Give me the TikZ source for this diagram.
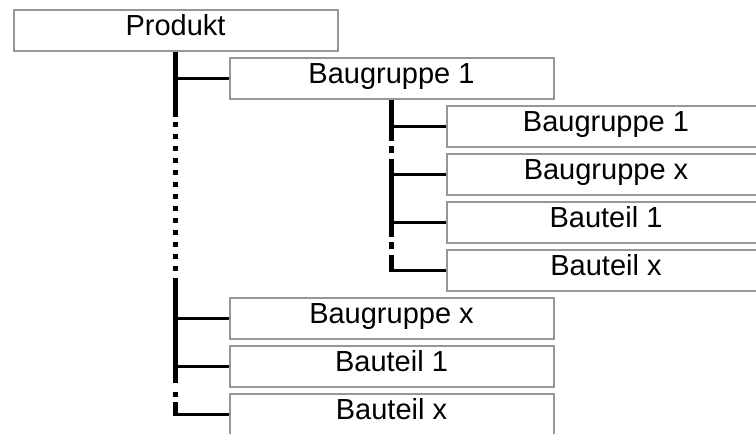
\documentclass[tikz,border=0pt]{standalone}
\usepackage{fontspec}
\setmainfont{Liberation Sans}
\definecolor{boxgray}{RGB}{150,150,150}
\tikzset{
  box/.style={draw=boxgray, line width=2pt, fill=white, inner sep=0pt,
    minimum height=41pt, text height=20.8pt, text depth=10.4pt,
    font=\fontsize{29}{31}\selectfont},
  wbox/.style={box, minimum width=324pt},
  rbox/.style={box, minimum width=318pt},
  trunk/.style={line width=5pt, line cap=butt},
  branch/.style={line width=3.5pt, line cap=butt},
  dotline/.style={trunk, dash pattern=on 5pt off 7pt},
}
\begin{document}
\begin{tikzpicture}[x=1pt,y=-1pt]
\useasboundingbox (0,0) rectangle (756,434);
\clip (0,0) rectangle (756,434);
% boxes
\node[wbox] (p)  at (175.5,30.5)  {Produkt};
\node[wbox] (a1) at (391.5,78.5)  {Baugruppe 1};
\node[rbox] (b1) at (606,126.5)   {Baugruppe 1};
\node[rbox] (b2) at (606,174.5)   {Baugruppe x};
\node[rbox] (b3) at (606,222.5)   {Bauteil 1};
\node[rbox] (b4) at (606,270.5)   {Bauteil x};
\node[wbox] (a2) at (391.5,318.5) {Baugruppe x};
\node[wbox] (a3) at (391.5,366.5) {Bauteil 1};
\node[wbox] (a4) at (391.5,414.5) {Bauteil x};
% main trunk pieces
\coordinate (t1) at (175.5,117);
\coordinate (t2) at (175.5,122);
\coordinate (t3) at (175.5,272);
\coordinate (t4) at (175.5,278);
\coordinate (t5) at (175.5,383);
\coordinate (t6) at (175.5,392);
\coordinate (t7) at (175.5,397);
\coordinate (t8) at (175.5,402);
\coordinate (t9) at (175.5,416.25);
\draw[trunk] (p.south) -- (t1);
\draw[dotline] (t2) -- (t3);
\draw[trunk] (t4) -- (t5);
\draw[trunk] (t6) -- (t7);
\draw[trunk] (t8) -- (t9);
% main branches
\draw[branch] (p.south |- a1.west) -- (a1.west);
\draw[branch] (p.south |- a2.west) -- (a2.west);
\draw[branch] (p.south |- a3.west) -- (a3.west);
\draw[branch] ([xshift=-2.5pt]p.south |- a4.west) -- (a4.west);
% second-level trunk pieces
\coordinate (s1) at (391.5,141);
\coordinate (s2) at (391.5,146);
\coordinate (s3) at (391.5,153);
\coordinate (s4) at (391.5,159);
\coordinate (s5) at (391.5,237);
\coordinate (s6) at (391.5,242);
\coordinate (s7) at (391.5,249);
\coordinate (s8) at (391.5,255);
\coordinate (s9) at (391.5,272.25);
\draw[trunk] (a1.south) -- (s1);
\draw[trunk] (s2) -- (s3);
\draw[trunk] (s4) -- (s5);
\draw[trunk] (s6) -- (s7);
\draw[trunk] (s8) -- (s9);
% second-level branches
\draw[branch] (a1.south |- b1.west) -- (b1.west);
\draw[branch] (a1.south |- b2.west) -- (b2.west);
\draw[branch] (a1.south |- b3.west) -- (b3.west);
\draw[branch] ([xshift=-2.5pt]a1.south |- b4.west) -- (b4.west);
\end{tikzpicture}
\end{document}
